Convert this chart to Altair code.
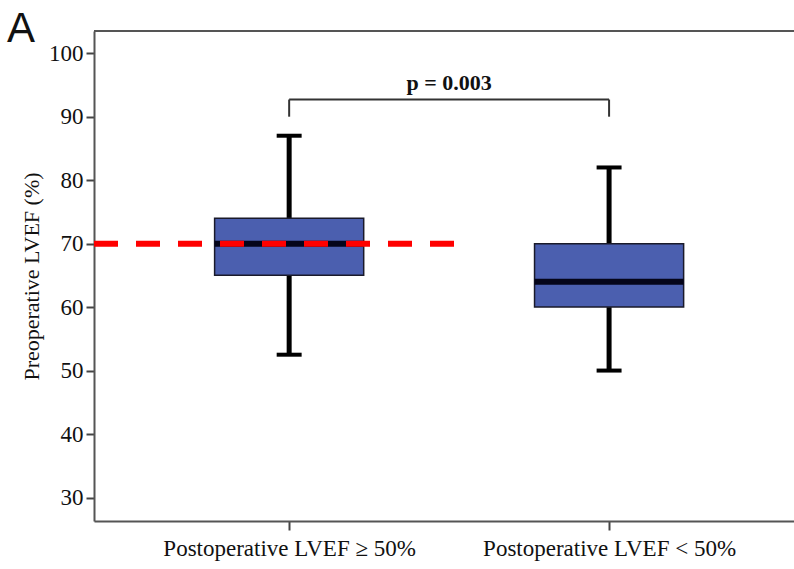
import altair as alt
import pandas as pd

# ---- data ----
groups = ["Postoperative LVEF ≥ 50%", "Postoperative LVEF < 50%"]
positions = [1, 2]
whisker_low = [52.5, 50.0]
q1 = [65.0, 60.0]
median = [70.0, 64.0]
q3 = [74.0, 70.0]
whisker_high = [87.0, 82.0]

ref_value = 70.0          # red dashed reference line
ref_x_start = 0.39
ref_x_end = 1.516

p_text = "p = 0.003"
bracket_top = 92.7
bracket_bottom = 90.0
p_text_y = 94.2

panel_label = "A"

y_ticks = [30, 40, 50, 60, 70, 80, 90, 100]
x_domain = [0.39, 2.578]
y_domain = [26.3, 103.5]

box_df = pd.DataFrame({
    "group": groups, "pos": positions, "low": whisker_low, "q1": q1,
    "median": median, "q3": q3, "high": whisker_high,
})
ref_df = pd.DataFrame({"x": [ref_x_start], "x2": [ref_x_end], "y": [ref_value]})
br_df = pd.DataFrame({"x": [positions[0]], "x2": [positions[1]],
                      "top": [bracket_top], "bottom": [bracket_bottom]})
br_v_df = pd.DataFrame({"x": positions, "top": [bracket_top] * 2,
                        "bottom": [bracket_bottom] * 2})
p_df = pd.DataFrame({"x": [(positions[0] + positions[1]) / 2], "y": [p_text_y], "t": [p_text]})
lab_df = pd.DataFrame({"t": [panel_label]})

label_expr = f"datum.value == 1 ? '{groups[0]}' : '{groups[1]}'"

xs = alt.Scale(domain=x_domain, nice=False, zero=False)
ys = alt.Scale(domain=y_domain, nice=False, zero=False)

x_axis = alt.Axis(values=positions, labelExpr=label_expr, title=None, grid=False,
                  tickSize=9, labelPadding=7, labelFontSize=23, labelLimit=0,
                  labelFont="Liberation Serif")
y_axis = alt.Axis(values=y_ticks, title="Preoperative LVEF (%)", grid=False,
                  tickSize=8, labelPadding=3, titlePadding=5, labelFontSize=23,
                  titleFontSize=22, labelFont="Liberation Serif",
                  titleFont="Liberation Serif", titleFontWeight="normal")

base = alt.Chart(box_df).transform_calculate(
    lo="datum.pos - 0.233", hi="datum.pos + 0.233",
    clo="datum.pos - 0.039", chi="datum.pos + 0.039",
)

whisk_lo = base.mark_rule(color="#000000", strokeWidth=5).encode(
    x=alt.X("pos:Q", scale=xs, axis=x_axis),
    y=alt.Y("low:Q", scale=ys, axis=y_axis),
    y2="q1:Q",
)
whisk_hi = base.mark_rule(color="#000000", strokeWidth=5).encode(
    x=alt.X("pos:Q", scale=xs), y=alt.Y("q3:Q", scale=ys), y2="high:Q")
cap_lo = base.mark_rule(color="#000000", strokeWidth=4).encode(
    x=alt.X("clo:Q", scale=xs), x2="chi:Q", y=alt.Y("low:Q", scale=ys))
cap_hi = base.mark_rule(color="#000000", strokeWidth=4).encode(
    x=alt.X("clo:Q", scale=xs), x2="chi:Q", y=alt.Y("high:Q", scale=ys))
box = base.mark_rect(fill="#4B5FAF", stroke="#1a1a2a", strokeWidth=1.5).encode(
    x=alt.X("lo:Q", scale=xs), x2="hi:Q",
    y=alt.Y("q1:Q", scale=ys), y2="q3:Q")
med = base.mark_rule(color="#05051a", strokeWidth=6).encode(
    x=alt.X("lo:Q", scale=xs), x2="hi:Q", y=alt.Y("median:Q", scale=ys))

ref = alt.Chart(ref_df).mark_rule(color="#FF0000", strokeWidth=6, strokeDash=[24, 18]).encode(
    x=alt.X("x:Q", scale=xs), x2="x2:Q", y=alt.Y("y:Q", scale=ys))

br_h = alt.Chart(br_df).mark_rule(color="#333333", strokeWidth=2).encode(
    x=alt.X("x:Q", scale=xs), x2="x2:Q", y=alt.Y("top:Q", scale=ys))
br_v = alt.Chart(br_v_df).mark_rule(color="#333333", strokeWidth=2).encode(
    x=alt.X("x:Q", scale=xs), y=alt.Y("top:Q", scale=ys), y2="bottom:Q")
ptxt = alt.Chart(p_df).mark_text(font="Liberation Serif", fontSize=22, fontWeight="bold",
                                 baseline="alphabetic", align="center", color="#111111").encode(
    x=alt.X("x:Q", scale=xs), y=alt.Y("y:Q", scale=ys), text="t:N")

top_line = alt.Chart(ref_df).mark_rule(color="#555555", strokeWidth=2).encode(
    x=alt.value(0), x2=alt.value(700), y=alt.value(0))

panel = alt.Chart(lab_df).mark_text(font="Liberation Sans", fontSize=42, align="left",
                                    baseline="alphabetic", color="#111111").encode(
    x=alt.value(-87), y=alt.value(11), text="t:N")

chart = alt.layer(
    whisk_lo, whisk_hi, cap_lo, cap_hi, box, med, ref, br_h, br_v, ptxt, top_line, panel
).properties(
    width=700, height=490,
    padding={"left": 94, "top": 31, "right": 0, "bottom": 48},
    autosize=alt.AutoSizeParams(type="none"),
    background="white",
).configure_view(stroke=None).configure_axis(
    labelColor="#111111", titleColor="#111111",
    domainColor="#555555", domainWidth=2, tickColor="#444444", tickWidth=2,
)

chart.save("out.html", embed_options={"renderer": "svg", "actions": False})
